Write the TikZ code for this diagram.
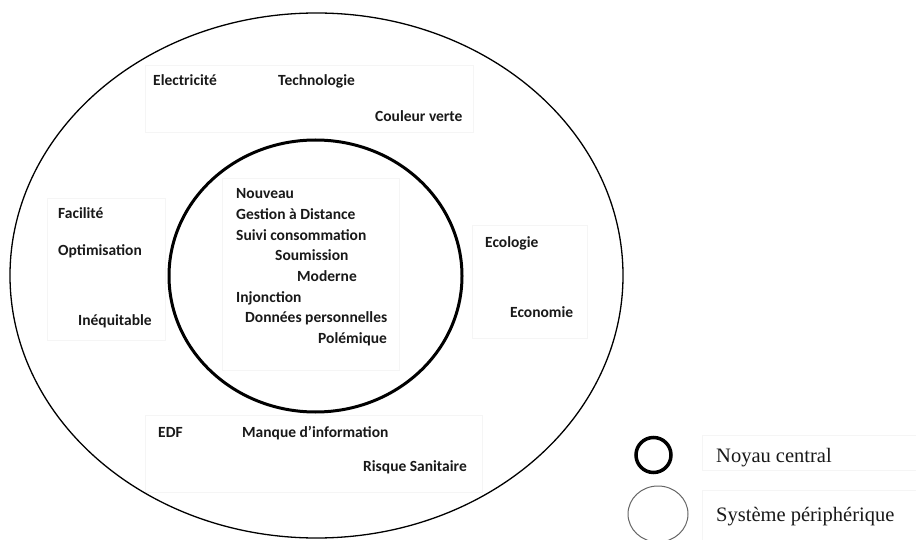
\documentclass[tikz,border=0pt]{standalone}
\usepackage{fontspec}
\setmainfont{Carlito}
\newfontfamily\legendfont{Liberation Serif}
\begin{document}
\begin{tikzpicture}[x=1pt,y=-1pt,
  lbl/.style={anchor=base west,inner sep=0pt,font=\fontsize{15.5}{18}\selectfont\bfseries,text=black!90},
  leg/.style={anchor=base west,inner sep=0pt,font=\legendfont\fontsize{20.5}{24}\selectfont,text=black!90},
  faint/.style={draw=black!4,line width=0.7pt},
  outerring/.style={draw=black,line width=1.3pt},
  innerring/.style={draw=black,line width=3pt}]
\useasboundingbox (0,0) rectangle (916,540);
\fill[white] (0,0) rectangle (916,540);
% faint text boxes
\draw[faint] (145,65) rectangle (473,132);
\draw[faint] (47,198) rectangle (165,340);
\draw[faint] (222,178) rectangle (399,370);
\draw[faint] (472,225) rectangle (587,338);
\draw[faint] (145,415) rectangle (482,492);
\draw[faint] (702,435) rectangle (916,470);
\draw[faint] (702,490) rectangle (916,540);
% rings
\draw[outerring] (316.5,275.5) ellipse [x radius=306.5, y radius=262.5];
\draw[innerring] (315.5,276) ellipse [x radius=146.5, y radius=136];
% top
\node[lbl] (elec) at (153,86) {Electricité};
\node[lbl] (tech) at (278,86) {Technologie};
\node[lbl] (coul) at (375,122) {Couleur verte};
% left
\node[lbl] (faci) at (58,219) {Facilité};
\node[lbl] (opti) at (58,255) {Optimisation};
\node[lbl] (ineq) at (78,325) {Inéquitable};
% center
\node[lbl] (nouv) at (236,199) {Nouveau};
\node[lbl] (gest) at (236,219.6) {Gestion à Distance};
\node[lbl] (suiv) at (236,240.2) {Suivi consommation};
\node[lbl] (soum) at (275,260.8) {Soumission};
\node[lbl] (mode) at (297,281.4) {Moderne};
\node[lbl] (injo) at (236,302) {Injonction};
\node[lbl] (donn) at (245,322.6) {Données personnelles};
\node[lbl] (pole) at (318,343.2) {Polémique};
% right
\node[lbl] (ecol) at (485,248) {Ecologie};
\node[lbl] (econ) at (510,317) {Economie};
% bottom
\node[lbl] (edf) at (158,437) {EDF};
\node[lbl] (manq) at (242,437) {Manque d’information};
\node[lbl] (risq) at (363,471) {Risque Sanitaire};
% legend
\draw[black,line width=3.5pt] (653.5,455) ellipse [x radius=17.5, y radius=17.5];
\begin{scope}
\clip (620,480) rectangle (700,540);
\draw[black!60,line width=1pt] (658,514) ellipse [x radius=30, y radius=28];
\end{scope}
\node[leg] (noyau) at (716,462) {Noyau central};
\node[leg] (syst) at (716,521) {Système périphérique};
\end{tikzpicture}
\end{document}
